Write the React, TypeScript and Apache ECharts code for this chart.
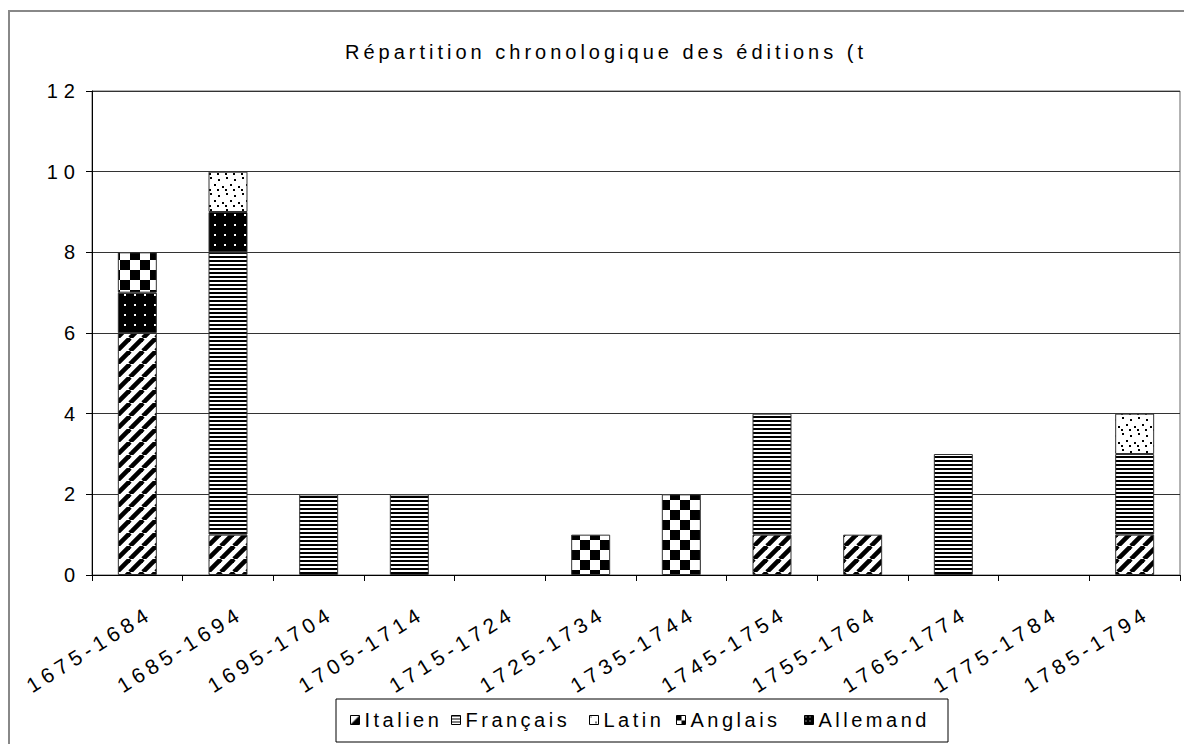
import React, { useEffect, useRef } from "react";
import * as echarts from "echarts";

const TITLE = "Répartition chronologique des éditions (t";
const categories = [
  "1675-1684", "1685-1694", "1695-1704", "1705-1714", "1715-1724", "1725-1734",
  "1735-1744", "1745-1754", "1755-1764", "1765-1774", "1775-1784", "1785-1794",
];
const italien = [6, 1, 0, 0, 0, 0, 0, 1, 1, 0, 0, 1];
const francais = [0, 7, 2, 2, 0, 0, 0, 3, 0, 3, 0, 2];
const latin = [0, 1, 0, 0, 0, 0, 0, 0, 0, 0, 0, 1];
const anglais = [1, 0, 0, 0, 0, 1, 2, 0, 0, 0, 0, 0];
const allemand = [1, 1, 0, 0, 0, 0, 0, 0, 0, 0, 0, 0];
const legendOrder = ["Italien", "Français", "Latin", "Anglais", "Allemand"];
const Y_MIN = 0;
const Y_MAX = 12;
const Y_STEP = 2;

const FONT = "'Liberation Sans', Arial, sans-serif";

function makePattern(size: number, draw: (ctx: CanvasRenderingContext2D) => void, bg = "#fff") {
  const c = document.createElement("canvas");
  c.width = size;
  c.height = size;
  const ctx = c.getContext("2d") as CanvasRenderingContext2D;
  ctx.fillStyle = bg;
  ctx.fillRect(0, 0, size, size);
  ctx.fillStyle = "#000";
  ctx.strokeStyle = "#000";
  draw(ctx);
  return { image: c, repeat: "repeat", imageWidth: size, imageHeight: size };
}

export default function App() {
  const ref = useRef<HTMLDivElement>(null);
  useEffect(() => {
    if (!ref.current) return;
    const chart = echarts.init(ref.current, undefined, { renderer: "svg" });

    const pItalien = makePattern(13, (ctx) => {
      ctx.lineWidth = 4.6;
      for (const k of [-13, 0, 13]) {
        ctx.beginPath();
        ctx.moveTo(k, 13);
        ctx.lineTo(k + 13, 0);
        ctx.stroke();
      }
    });
    const pFrancais = makePattern(4, (ctx) => {
      ctx.fillRect(0, 0, 4, 2);
    });
    const pLatin = makePattern(16, (ctx) => {
      const dots = [[2, 1], [10, 3], [6, 8], [14, 10], [1, 13], [9, 13]];
      dots.forEach(([x, y]) => ctx.fillRect(x, y, 2, 2));
    });
    const pAnglais = makePattern(20, (ctx) => {
      ctx.fillRect(0, 0, 10, 10);
      ctx.fillRect(10, 10, 10, 10);
    });
    const pAllemand = makePattern(10, (ctx) => {
      ctx.fillStyle = "#fff";
      ctx.fillRect(4, 4, 2, 2);
    }, "#000");

    // small tiles for the legend keys
    const iItalien = makePattern(9, (ctx) => {
      ctx.beginPath();
      ctx.moveTo(9, 0);
      ctx.lineTo(9, 9);
      ctx.lineTo(0, 9);
      ctx.closePath();
      ctx.fill();
    });
    const iFrancais = makePattern(3, (ctx) => ctx.fillRect(0, 0, 3, 1));
    const iLatin = makePattern(9, (ctx) => {
      ctx.fillRect(1, 1, 1, 1);
      ctx.fillRect(6, 6, 1, 2);
    });
    const iAnglais = makePattern(9, (ctx) => {
      ctx.fillRect(0, 0, 5, 5);
      ctx.fillRect(5, 5, 4, 4);
    });
    const iAllemand = makePattern(4, (ctx) => {
      ctx.fillStyle = "#fff";
      ctx.fillRect(1, 1, 1, 1);
    }, "#000");
    const legendIcons = [iItalien, iFrancais, iLatin, iAnglais, iAllemand];

    const mk = (name: string, data: number[], pattern: any) => ({
      name,
      type: "bar",
      stack: "total",
      barWidth: "43%",
      data: data.map((v) => (v ? v : null)),
      itemStyle: { color: pattern, borderColor: "#333", borderWidth: 1 },
      emphasis: { disabled: true },
    });

    const legendX = [350, 451, 589, 676, 804];
    const legends = legendOrder.map((n, i) => ({
      data: [n],
      left: legendX[i],
      top: 710,
      icon: "rect",
      itemWidth: 9,
      itemHeight: 9,
      padding: 0,
      selectedMode: false,
      itemStyle: { color: legendIcons[i], borderColor: "#000", borderWidth: 1 },
      textStyle: { fontSize: 20, color: "#000", fontFamily: FONT },
    }));

    chart.setOption({
      animation: false,
      backgroundColor: "#fff",
      textStyle: { fontFamily: FONT },
      grid: {
        left: 92,
        right: 4,
        top: 91,
        bottom: 169,
        show: true,
        borderColor: "#666",
        borderWidth: 1,
        backgroundColor: "transparent",
      },
      legend: legends,
      graphic: [
        {
          type: "rect",
          shape: { x: 9, y: 11, width: 1200, height: 800 },
          style: { fill: "none", stroke: "#888", lineWidth: 2 },
          z: -10,
        },
        {
          type: "rect",
          shape: { x: 336, y: 699, width: 612, height: 43 },
          style: { fill: "#fff", stroke: "#000", lineWidth: 1 },
          z: -5,
        },
        {
          type: "text",
          x: 606,
          y: 52,
          style: {
            text: TITLE,
            fontSize: 20,
            fontFamily: FONT,
            fill: "#000",
            align: "center",
            verticalAlign: "middle",
          },
        },
      ],
      xAxis: {
        type: "category",
        data: categories,
        axisLine: { lineStyle: { color: "#000", width: 1 } },
        axisTick: { show: true, length: 6, lineStyle: { color: "#000" } },
        axisLabel: {
          rotate: 32,
          interval: 0,
          margin: 44,
          fontSize: 21,
          color: "#000",
          fontFamily: FONT,
        },
        splitLine: { show: false },
      },
      yAxis: {
        type: "value",
        min: Y_MIN,
        max: Y_MAX,
        interval: Y_STEP,
        axisLine: { show: true, lineStyle: { color: "#000", width: 1 } },
        axisTick: { show: true, length: 6, lineStyle: { color: "#000" } },
        axisLabel: { margin: 11, fontSize: 20, color: "#000", fontFamily: FONT },
        splitLine: { show: true, lineStyle: { color: "#333", width: 1 } },
      },
      series: [
        mk("Italien", italien, pItalien),
        mk("Français", francais, pFrancais),
        mk("Allemand", allemand, pAllemand),
        mk("Anglais", anglais, pAnglais),
        mk("Latin", latin, pLatin),
      ],
    });

    // imitate the wide character spacing of the original rendering
    const spaceText = () => {
      const root = ref.current;
      if (!root) return;
      root.querySelectorAll("text").forEach((t) => {
        const s = (t.textContent || "").trim();
        if (s === TITLE) {
          t.setAttribute("letter-spacing", "4");
        } else if (categories.includes(s)) {
          t.setAttribute("letter-spacing", "4.8");
          t.setAttribute("dx", "15");
        } else if (legendOrder.includes(s)) {
          t.setAttribute("letter-spacing", "3.5");
        } else if (/^\d+$/.test(s)) {
          t.setAttribute("letter-spacing", "6");
        }
      });
    };
    spaceText();
    chart.on("finished", spaceText);
    const raf = requestAnimationFrame(spaceText);

    return () => {
      cancelAnimationFrame(raf);
      chart.dispose();
    };
  }, []);

  return (
    <div
      ref={ref}
      style={{ position: "absolute", left: 0, top: 0, width: 1184, height: 744 }}
    />
  );
}
